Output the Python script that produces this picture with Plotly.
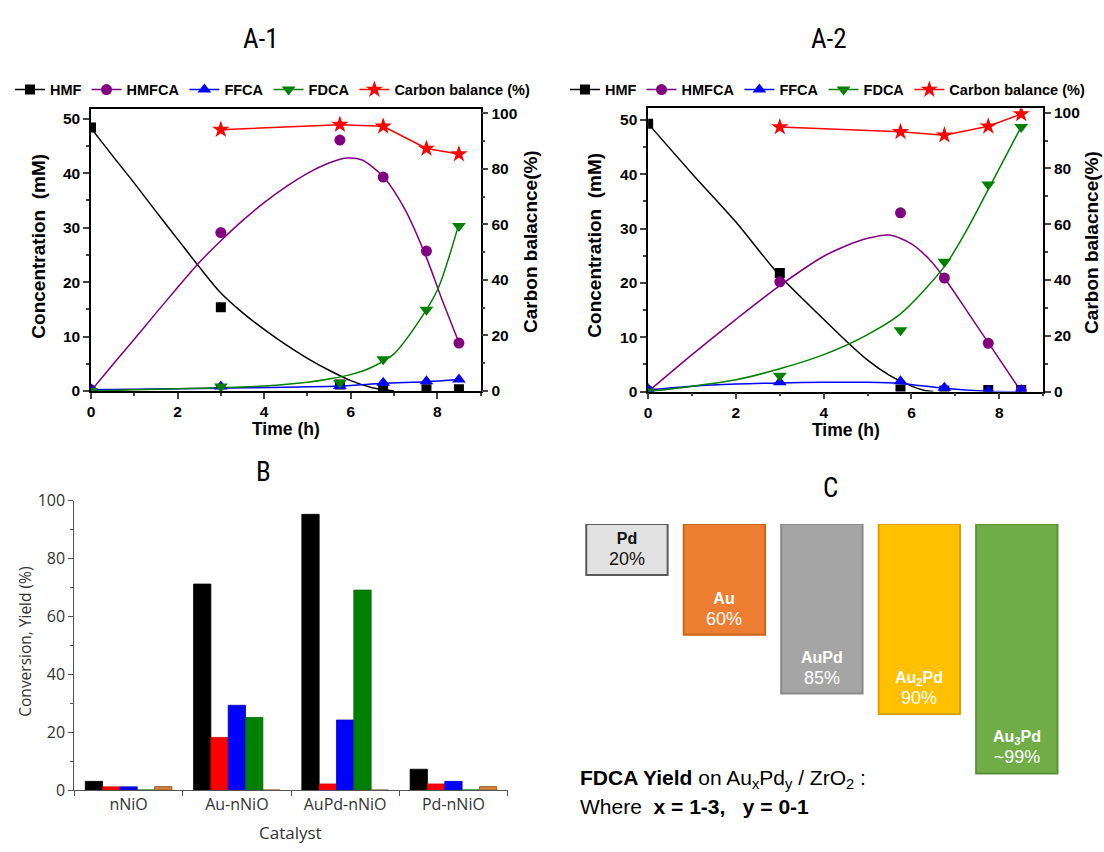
import plotly.graph_objects as go

W, H = 1104, 852


def px(x):
    return x / W


def py(y):
    return 1 - y / H


# ---------------- A-1 data ----------------
t_pts = [0, 3, 5.75, 6.75, 7.75, 8.5]
a1_hmf = [48.4, 15.4, 1.2, 0.2, 0.3, 0.3]
a1_hmfca = [0.2, 29.1, 46.1, 39.3, 25.7, 8.8]
a1_ffca = [0.3, 0.8, 0.9, 1.5, 1.8, 2.1]
a1_fdca = [0.0, 0.8, 1.5, 5.8, 14.9, 30.3]
t_cb = [3, 5.75, 6.75, 7.75, 8.5]
a1_cb = [94.1, 95.9, 95.3, 87.3, 85.3]

# A-1 fitted curves
a1_hmf_fit_t = [0, 0.5, 1, 1.5, 2, 2.5, 3, 3.5, 4, 4.5, 5, 5.5, 6, 6.5, 7]
a1_hmf_fit = [48.3, 43.2, 38.2, 33.0, 27.9, 22.8, 18.0, 14.4, 11.3, 8.5, 6.0, 3.8, 1.9, 0.6, 0.0]
a1_hmfca_fit_t = [0, 0.5, 1, 1.5, 2, 2.5, 3, 3.5, 4, 4.5, 5, 5.5, 5.9, 6.25, 6.75, 7.25, 7.75, 8.1, 8.5]
a1_hmfca_fit = [0, 4.8, 9.5, 14.3, 19.0, 23.6, 27.6, 31.3, 34.6, 37.5, 40.0, 41.9, 42.8, 42.5, 39.4, 33.4,
                24.5, 17.0, 8.9]
a1_ffca_fit_t = [0, 3, 5.75, 6.75, 7.75, 8.5]
a1_ffca_fit = [0.2, 0.5, 0.9, 1.4, 1.7, 2.1]
a1_fdca_fit_t = [0, 1, 2, 3, 4, 5, 5.5, 6, 6.5, 7, 7.5, 8, 8.5]
a1_fdca_fit = [0, 0.2, 0.4, 0.6, 0.9, 1.6, 2.2, 3.0, 4.4, 6.8, 11.9, 18.5, 30.7]

# ---------------- A-2 data ----------------
a2_hmf = [49.3, 21.8, 0.4, 0.2, 0.3, 0.3]
a2_hmfca = [0.2, 20.2, 32.9, 20.9, 8.9, 0.2]
a2_ffca = [0.5, 1.7, 1.9, 0.7, 0.1, 0.3]
a2_fdca = [0.0, 2.9, 11.3, 23.9, 38.1, 48.7]
a2_cb = [94.8, 93.1, 91.9, 95.1, 99.5]

a2_hmf_fit_t = [0, 1, 2, 3, 4, 4.5, 5, 5.5, 6, 6.3, 6.5]
a2_hmf_fit = [49.3, 40.1, 31.2, 21.3, 13.3, 9.4, 5.8, 3.0, 1.0, 0.2, 0.0]
a2_hmfca_fit_t = [0, 1, 2, 3, 4, 4.5, 5, 5.5, 6, 6.4, 6.75, 7.25, 7.75, 8.5]
a2_hmfca_fit = [0, 6.8, 13.3, 19.5, 24.9, 26.8, 28.2, 28.8, 27.2, 24.4, 20.9, 15.0, 9.0, 0.0]
a2_ffca_fit_t = [0, 1, 2, 3, 4, 5, 5.75, 6.75, 7.75, 8.5]
a2_ffca_fit = [0.3, 1.0, 1.4, 1.6, 1.7, 1.7, 1.5, 0.6, 0.05, 0.0]
a2_fdca_fit_t = [0, 1, 2, 3, 4, 5, 5.75, 6.75, 7.25, 7.75, 8.5]
a2_fdca_fit = [0, 1.0, 2.2, 4.2, 6.8, 10.5, 14.3, 23.0, 29.6, 37.2, 48.7]

# ---------------- B data ----------------
b_catalysts = ["nNiO", "Au-nNiO", "AuPd-nNiO", "Pd-nNiO"]
b_conversion = [3.0, 71.2, 95.3, 7.2]
b_red = [1.1, 18.2, 2.1, 2.1]
b_blue = [1.1, 29.3, 24.2, 3.0]
b_green = [0.0, 25.1, 69.1, 0.0]
b_orange = [1.2, 0.0, 0.0, 1.2]

# ---------------- C data ----------------
c_keys = ["Pd", "Au", "AuPd", "Au2Pd", "Au3Pd"]
c_names = ["Pd", "Au", "AuPd", "Au<sub>2</sub>Pd", "Au<sub>3</sub>Pd"]
c_yield_labels = ["20%", "60%", "85%", "90%", "~99%"]
c_box_length = [20.4, 44.4, 68.0, 76.2, 100.0]  # relative box lengths

FONT = "Liberation Sans, Arial, sans-serif"
OS = "Open Sans, Liberation Sans, sans-serif"
TITLE_FONT = "Liberation Sans Narrow, Roboto Condensed, Liberation Sans, sans-serif"

C_HMF, C_HMFCA, C_FFCA, C_FDCA, C_CB = "#000000", "#800080", "#0000ff", "#008000", "#ff0000"

fig = go.Figure()


def add_kinetics(xa, ya, ya2, legend, hmf, hmfca, ffca, fdca, cb, fits):
    for (ft, fv), col in zip(fits, [C_HMF, C_HMFCA, C_FFCA, C_FDCA]):
        fig.add_trace(go.Scatter(x=ft, y=fv, mode="lines",
                                 line=dict(color=col, width=1.5, shape="spline", smoothing=0.8),
                                 xaxis=xa, yaxis=ya, showlegend=False, hoverinfo="skip"))
    specs = [("HMF", hmf, C_HMF, "square", 10),
             ("HMFCA", hmfca, C_HMFCA, "circle", 11),
             ("FFCA", ffca, C_FFCA, "triangle-up", 12),
             ("FDCA", fdca, C_FDCA, "triangle-down", 12)]
    for name, vals, col, sym, sz in specs:
        fig.add_trace(go.Scatter(x=t_pts, y=vals, mode="markers", marker=dict(color=col, symbol=sym, size=sz),
                                 xaxis=xa, yaxis=ya, showlegend=False, name=name))
    for name, vals, col, sym, sz in specs:
        fig.add_trace(go.Scatter(x=[None], y=[None], mode="lines+markers", name=name,
                                 line=dict(color=col, width=1.5), marker=dict(color=col, symbol=sym, size=sz),
                                 xaxis=xa, yaxis=ya, legend=legend))
    fig.add_trace(go.Scatter(x=t_cb, y=cb, mode="lines+markers", name="Carbon balance (%)",
                             line=dict(color=C_CB, width=1.5), marker=dict(color=C_CB, symbol="star", size=13),
                             xaxis=xa, yaxis=ya2, legend=legend))


add_kinetics("x", "y", "y2", "legend", a1_hmf, a1_hmfca, a1_ffca, a1_fdca, a1_cb,
             [(a1_hmf_fit_t, a1_hmf_fit), (a1_hmfca_fit_t, a1_hmfca_fit),
              (a1_ffca_fit_t, a1_ffca_fit), (a1_fdca_fit_t, a1_fdca_fit)])
add_kinetics("x2", "y3", "y4", "legend2", a2_hmf, a2_hmfca, a2_ffca, a2_fdca, a2_cb,
             [(a2_hmf_fit_t, a2_hmf_fit), (a2_hmfca_fit_t, a2_hmfca_fit),
              (a2_ffca_fit_t, a2_ffca_fit), (a2_fdca_fit_t, a2_fdca_fit)])

# ---------------- B bars ----------------
for name, vals, col, lc in [("Conversion", b_conversion, "#000000", "#000000"),
                            ("HMFCA", b_red, "#ff0000", "#cc0000"),
                            ("FFCA", b_blue, "#0000ff", "#0000cc"),
                            ("FDCA", b_green, "#008000", "#006400"),
                            ("Other", b_orange, "#d2843a", "#8a5020")]:
    fig.add_trace(go.Bar(x=b_catalysts, y=vals, name=name, marker=dict(color=col, line=dict(color=lc, width=0.8)),
                         xaxis="x3", yaxis="y5", showlegend=False))

# ---------------- C boxes ----------------
c_fill = ["#e2e2e2", "#ed7d31", "#a5a5a5", "#ffc000", "#70ad47"]
c_line = ["#5a5a5a", "#c9651f", "#8a8a8a", "#d9a300", "#5b9138"]
fig.add_trace(go.Bar(x=c_keys, y=c_box_length, width=0.835,
                     marker=dict(color=c_fill, line=dict(color=c_line, width=2)),
                     xaxis="x4", yaxis="y6", showlegend=False, hoverinfo="skip"))

annotations = []
for key, nm, lab, ln, i in zip(c_keys, c_names, c_yield_labels, c_box_length, range(5)):
    col = "#111111" if i == 0 else "#ffffff"
    annotations.append(dict(x=key, y=ln, xref="x4", yref="y6", yanchor="bottom", yshift=4, showarrow=False,
                            text=f"<b>{nm}</b><br><span style='font-size:18px'>{lab}</span>",
                            font=dict(family=FONT, size=16, color=col)))


def ann(x, y, text, size, family=FONT, color="#000", angle=0, bold=False, xanchor="center"):
    annotations.append(dict(x=px(x), y=py(y), xref="paper", yref="paper", text=text, showarrow=False,
                            textangle=angle, xanchor=xanchor, yanchor="middle",
                            font=dict(family=family, size=size, color=color, weight="bold" if bold else "normal")))


ann(258, 29, "A-1", 27, TITLE_FONT)
ann(828, 29, "A-2", 27, TITLE_FONT)
ann(260, 473, "B", 27, TITLE_FONT)
ann(830, 490, "C", 27, TITLE_FONT)

ann(35, 241, "Concentration  (mM)", 19, bold=True, angle=-90)
ann(529, 237, "Carbon balacnce(%)", 19, bold=True, angle=-90)
ann(283.3, 429, "Time (h)", 17.5, bold=True)
ann(593, 240, "Concentration  (mM)", 19, bold=True, angle=-90)
ann(1092, 238, "Carbon balacnce(%)", 19, bold=True, angle=-90)
ann(844.7, 430, "Time (h)", 17.5, bold=True)

ann(21.5, 647, "Conversion, Yield (%)", 15.5, OS, "#333333", angle=-90)
ann(288, 843, "Catalyst", 17, OS, "#333333")

ann(576, 788, "<b>FDCA Yield</b> on Au<sub>x</sub>Pd<sub>y</sub> / ZrO<sub>2</sub> :", 21, xanchor="left")
ann(576, 817, "Where  <b>x = 1-3,   y = 0-1</b>", 21, xanchor="left")

tickfont_bold = dict(family=FONT, size=15.5, color="#000", weight="bold")


def xa_kin(dom):
    return dict(domain=dom, range=[0, 9], dtick=2, tick0=0, ticks="outside", ticklen=6, tickwidth=1.5,
                minor=dict(dtick=1, ticks="outside", ticklen=3, tickwidth=1.5),
                showline=True, linecolor="#000", linewidth=1.5, mirror=True, showgrid=False, zeroline=False,
                tickfont=tickfont_bold)


def ya_kin(dom, rng, anchor):
    return dict(domain=dom, range=rng, dtick=10, ticks="outside", ticklen=6, tickwidth=1.5,
                minor=dict(dtick=5, ticks="outside", ticklen=3, tickwidth=1.5),
                showline=True, linecolor="#000", linewidth=1.5, showgrid=False, zeroline=False,
                tickfont=tickfont_bold, anchor=anchor)


def ya_cb(rng, anchor, over):
    return dict(range=rng, dtick=20, ticks="outside", ticklen=6, tickwidth=1.5, side="right", overlaying=over,
                minor=dict(dtick=10, ticks="outside", ticklen=3, tickwidth=1.5),
                showline=True, linecolor="#000", linewidth=1.5, showgrid=False, zeroline=False,
                tickfont=tickfont_bold, anchor=anchor)


legend_common = dict(orientation="h", yanchor="middle", xanchor="left", bgcolor="rgba(0,0,0,0)",
                     font=dict(family=FONT, size=14.5, color="#000", weight="bold"), itemwidth=30,
                     tracegroupgap=0)

fig.update_layout(
    width=W, height=H, margin=dict(l=0, r=0, t=0, b=0),
    paper_bgcolor="white", plot_bgcolor="rgba(0,0,0,0)",
    barmode="group", bargap=0.2, bargroupgap=0,
    xaxis=xa_kin([px(87.3), px(478.3)]),
    yaxis=ya_kin([py(390), py(100.7)], [0, 51.8], "x"),
    yaxis2=ya_cb([0, 101.5], "x", "y"),
    xaxis2=dict(xa_kin([px(646.5), px(1042.9)]), anchor="y3"),
    yaxis3=ya_kin([py(390.7), py(100)], [0, 52.1], "x2"),
    yaxis4=ya_cb([0, 101.5], "x2", "y3"),
    xaxis3=dict(domain=[px(70.7), px(505.4)], anchor="y5", type="category", tickson="boundaries",
                ticks="outside", ticklen=5, tickcolor="#555", showline=True, linecolor="#555", linewidth=1.2,
                showgrid=False, tickfont=dict(family=OS, size=16, color="#333")),
    yaxis5=dict(domain=[py(799.7), py(502.7)], anchor="x3", range=[0, 100], dtick=20, ticks="outside", ticklen=5,
                tickcolor="#555", minor=dict(dtick=10, ticks="outside", ticklen=3, tickcolor="#555"),
                showline=True, linecolor="#555", linewidth=1.2, showgrid=False, zeroline=False,
                tickfont=dict(family=OS, size=16, color="#333")),
    xaxis4=dict(domain=[px(576.3), px(1065.4)], anchor="y6", type="category", visible=False),
    yaxis6=dict(domain=[py(786.7), py(526.7)], anchor="x4", range=[101.6, 0], visible=False),
    legend=dict(legend_common, x=px(6), y=py(80.7)),
    legend2=dict(legend_common, x=px(563), y=py(80.7)),
    annotations=annotations,
)

fig.write_html("out.html", config={"displayModeBar": False},
               post_script="document.body.style.margin='0px';document.body.style.overflow='hidden';")
